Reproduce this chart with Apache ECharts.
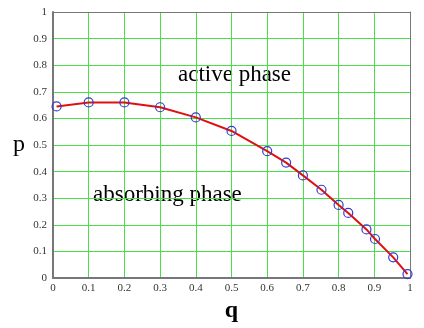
<!DOCTYPE html>
<html>
<head>
<meta charset="utf-8">
<script src="https://cdn.jsdelivr.net/npm/echarts@6/dist/echarts.min.js"></script>
<style>
  html, body { margin: 0; padding: 0; background: #fff; }
  #chart { width: 424px; height: 328px; }
</style>
</head>
<body>
<div id="chart"></div>
<script>
  // q values of the measured points
  const qValues = [0.01, 0.1, 0.2, 0.3, 0.4, 0.5, 0.6, 0.653, 0.7, 0.752, 0.8, 0.827, 0.878, 0.902, 0.953, 0.993]
  // p values of the measured points
  const pValues = [0.645, 0.66, 0.66, 0.642, 0.604, 0.553, 0.477, 0.434, 0.386, 0.332, 0.275, 0.245, 0.183, 0.147, 0.078, 0.015]
  const xTickLabels = ['0', '0.1', '0.2', '0.3', '0.4', '0.5', '0.6', '0.7', '0.8', '0.9', '1']
  const yTickLabels = ['0', '0.1', '0.2', '0.3', '0.4', '0.5', '0.6', '0.7', '0.8', '0.9', '1']
  const phaseLabels = ['active phase', 'absorbing phase']

  const points = qValues.map((q, i) => [q, pValues[i]])

  const chart = echarts.init(document.getElementById('chart'))
  const gridColor = '#48e048'
  const labelStyle = { fontFamily: 'Liberation Serif', fontSize: 11, color: '#333' }
  const option = {
    animation: false,
    grid: { left: 53, right: 14, top: 12, bottom: 37 },
    xAxis: [
      {
        type: 'value', min: 0, max: 1, interval: 0.1,
        name: 'q', nameLocation: 'middle', nameGap: 10,
        nameTextStyle: { fontFamily: 'Liberation Serif', fontSize: 24, fontWeight: 'bold', color: '#000', verticalAlign: 'top' },
        axisLine: { show: true, lineStyle: { color: '#777', width: 2 } },
        axisTick: { show: false },
        axisLabel: Object.assign({ margin: 5, formatter: v => xTickLabels[Math.round(v * 10)] }, labelStyle),
        splitLine: { show: true, lineStyle: { color: gridColor, width: 1 } }
      },
      {
        // top border of the plot
        type: 'value', position: 'top', min: 0, max: 1,
        axisLine: { show: true, onZero: false, lineStyle: { color: '#777', width: 1 } },
        axisTick: { show: false }, axisLabel: { show: false }, splitLine: { show: false }
      }
    ],
    yAxis: [
      {
        type: 'value', min: 0, max: 1, interval: 0.1,
        name: 'p', nameLocation: 'middle', nameRotate: 0, nameGap: 28,
        nameTextStyle: { fontFamily: 'Liberation Serif', fontSize: 24, color: '#000' },
        axisLine: { show: true, lineStyle: { color: '#777', width: 2 } },
        axisTick: { show: false },
        axisLabel: Object.assign({ margin: 6, formatter: v => yTickLabels[Math.round(v * 10)] }, labelStyle),
        splitLine: { show: true, lineStyle: { color: gridColor, width: 1 } }
      },
      {
        // right border of the plot
        type: 'value', position: 'right', min: 0, max: 1,
        axisLine: { show: true, onZero: false, lineStyle: { color: '#777', width: 1 } },
        axisTick: { show: false }, axisLabel: { show: false }, splitLine: { show: false }
      }
    ],
    graphic: [
      { type: 'text', left: 178, top: 63, style: { text: phaseLabels[0], font: '23px "Liberation Serif"', fill: '#000' } },
      { type: 'text', left: 93, top: 183, style: { text: phaseLabels[1], font: '23px "Liberation Serif"', fill: '#000' } }
    ],
    series: [
      {
        type: 'line',
        data: points,
        symbol: 'circle',
        symbolSize: 9,
        itemStyle: { color: 'rgba(255,255,255,0)', borderColor: '#3a3acc', borderWidth: 1.2 },
        lineStyle: { color: '#e01010', width: 2 },
        z: 3
      }
    ]
  }
  chart.setOption(option)
</script>
</body>
</html>
